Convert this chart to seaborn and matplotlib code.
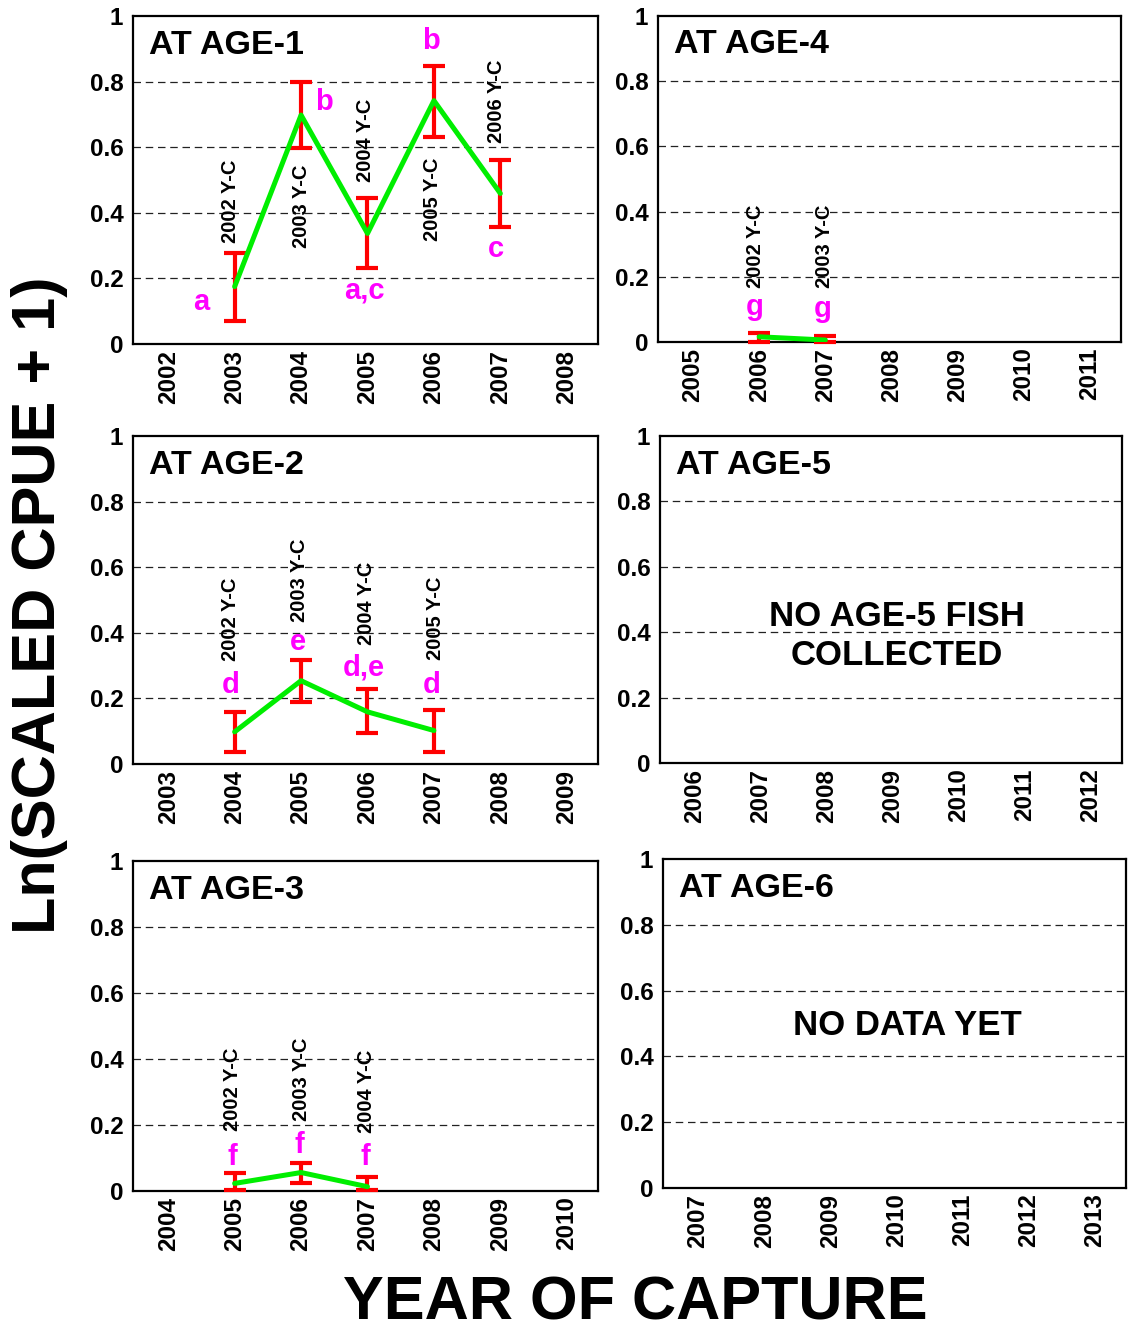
import numpy as np
import pandas as pd
import matplotlib
matplotlib.use("Agg")
import matplotlib.pyplot as plt
import seaborn as sns

sns.set_theme(style="white")
plt.rcParams["font.family"] = ["Liberation Sans", "DejaVu Sans"]
plt.rcParams["font.weight"] = "bold"
plt.rcParams["text.color"] = "black"
plt.rcParams["axes.labelcolor"] = "black"
plt.rcParams["xtick.color"] = "black"
plt.rcParams["ytick.color"] = "black"

# ---- data: mean ln(scaled CPUE + 1) with 95% CI, by year of capture ----
age1_years = [2003, 2004, 2005, 2006, 2007]
age1_mean = [0.175, 0.698, 0.337, 0.742, 0.459]
age1_low = [0.071, 0.597, 0.233, 0.632, 0.356]
age1_high = [0.278, 0.798, 0.444, 0.848, 0.561]
age1_yc = ["2002 Y-C", "2003 Y-C", "2004 Y-C", "2005 Y-C", "2006 Y-C"]
age1_letters = ["a", "b", "a,c", "b", "c"]

age2_years = [2004, 2005, 2006, 2007]
age2_mean = [0.098, 0.254, 0.159, 0.102]
age2_low = [0.038, 0.188, 0.094, 0.038]
age2_high = [0.158, 0.317, 0.228, 0.165]
age2_yc = ["2002 Y-C", "2003 Y-C", "2004 Y-C", "2005 Y-C"]
age2_letters = ["d", "e", "d,e", "d"]

age3_years = [2005, 2006, 2007]
age3_mean = [0.023, 0.056, 0.013]
age3_low = [0.003, 0.023, 0.003]
age3_high = [0.054, 0.084, 0.043]
age3_yc = ["2002 Y-C", "2003 Y-C", "2004 Y-C"]
age3_letters = ["f", "f", "f"]

age4_years = [2006, 2007]
age4_mean = [0.016, 0.006]
age4_low = [0.001, 0.0]
age4_high = [0.029, 0.018]
age4_yc = ["2002 Y-C", "2003 Y-C"]
age4_letters = ["g", "g"]

# first year shown on each panel's x axis (seven years per panel)
first_year = {1: 2002, 2: 2003, 3: 2004, 4: 2005, 5: 2006, 6: 2007}

# annotation placement (data coords): letter (x, baseline y), year-class label (x, centre y)
age1_letter_pos = [(2002.49, 0.104), (2004.35, 0.713), (2004.95, 0.139), (2005.95, 0.898), (2006.94, 0.266)]
age1_yc_pos = [(2002.94, 0.436), (2004.01, 0.419), (2004.97, 0.622), (2005.98, 0.442), (2006.94, 0.741)]
age2_letter_pos = [(2003.94, 0.216), (2004.95, 0.348), (2005.95, 0.271), (2006.96, 0.216)]
age2_yc_pos = [(2003.94, 0.442), (2004.98, 0.561), (2005.98, 0.491), (2007.02, 0.445)]
age3_letter_pos = [(2004.97, 0.079), (2005.97, 0.114), (2006.97, 0.079)]
age3_yc_pos = [(2004.97, 0.309), (2006.01, 0.338), (2006.99, 0.301)]
age4_letter_pos = [(2005.93, 0.083), (2006.96, 0.078)]
age4_yc_pos = [(2005.95, 0.292), (2006.98, 0.292)]

W, H = 1128, 1323
fig = plt.figure(figsize=(W / 100, H / 100), dpi=100)
fig.patch.set_facecolor("white")

# panel rectangles in pixels: left, top, right, bottom
rects = {
    1: (133, 16, 598, 344),
    2: (133, 436, 598, 764),
    3: (133, 861, 598, 1191),
    4: (658, 16, 1121, 342),
    5: (660, 436, 1122, 763),
    6: (663, 859, 1126, 1188),
}


def make_axes(n):
    l, t, r, b = rects[n]
    ax = fig.add_axes([l / W, 1 - b / H, (r - l) / W, (b - t) / H])
    y0 = first_year[n]
    ax.set_xlim(y0 - 0.53, y0 + 6 + 0.47)
    ax.set_ylim(0, 1)
    ax.set_xticks(range(y0, y0 + 7))
    ax.set_xticklabels([str(v) for v in range(y0, y0 + 7)], rotation=90,
                       fontsize=17.5, fontweight="bold")
    ax.set_yticks([0, 0.2, 0.4, 0.6, 0.8, 1.0])
    ax.set_yticklabels(["0", "0.2", "0.4", "0.6", "0.8", "1"],
                       fontsize=17.5, fontweight="bold")
    ax.tick_params(axis="both", length=0, colors="black")
    ax.tick_params(axis="y", pad=7)
    ax.tick_params(axis="x", pad=4)
    for s in ax.spines.values():
        s.set_visible(True)
        s.set_color("black")
        s.set_linewidth(1.6)
    for gy in (0.2, 0.4, 0.6, 0.8):
        ax.axhline(gy, color="#222222", lw=0.9, ls=(0, (6, 3.8)), zorder=1)
    ax.set_xlabel("")
    ax.set_ylabel("")
    ax.text(0.035, 0.885, f"AT AGE-{n}", transform=ax.transAxes, color="black",
            fontsize=24.5, fontweight="bold", ha="left", va="baseline")
    return ax


def draw_series(ax, years, mean, low, high, yc, letters, letter_pos, yc_pos):
    mean = np.asarray(mean)
    low = np.asarray(low)
    high = np.asarray(high)
    ax.errorbar(years, mean, yerr=[mean - low, high - mean], fmt="none",
                ecolor="#FF0000", elinewidth=3, capsize=8, capthick=3,
                zorder=3, clip_on=False)
    df = pd.DataFrame({"year": years, "cpue": mean})
    sns.lineplot(data=df, x="year", y="cpue", ax=ax, color="#00EE00",
                 lw=3.6, zorder=4, legend=False)
    ax.set_xlabel("")
    ax.set_ylabel("")
    for txt, (x, y) in zip(letters, letter_pos):
        ax.text(x, y, txt, color="#FF00FF", fontsize=21, fontweight="bold",
                ha="center", va="baseline", zorder=5)
    for txt, (x, y) in zip(yc, yc_pos):
        ax.text(x, y, txt, color="black", fontsize=14.5, fontweight="bold",
                rotation=90, ha="center", va="center", zorder=5)


ax1 = make_axes(1)
draw_series(ax1, age1_years, age1_mean, age1_low, age1_high, age1_yc,
            age1_letters, age1_letter_pos, age1_yc_pos)
ax2 = make_axes(2)
draw_series(ax2, age2_years, age2_mean, age2_low, age2_high, age2_yc,
            age2_letters, age2_letter_pos, age2_yc_pos)
ax3 = make_axes(3)
draw_series(ax3, age3_years, age3_mean, age3_low, age3_high, age3_yc,
            age3_letters, age3_letter_pos, age3_yc_pos)
ax4 = make_axes(4)
draw_series(ax4, age4_years, age4_mean, age4_low, age4_high, age4_yc,
            age4_letters, age4_letter_pos, age4_yc_pos)

ax5 = make_axes(5)
ax5.text(0.513, 0.388, "NO AGE-5 FISH\nCOLLECTED", transform=ax5.transAxes,
         color="black", fontsize=25, fontweight="bold", ha="center",
         va="center", linespacing=1.25)
ax6 = make_axes(6)
ax6.text(0.527, 0.495, "NO DATA YET", transform=ax6.transAxes, color="black",
         fontsize=25, fontweight="bold", ha="center", va="center")

fig.text(40 / W, 1 - 605 / H, "Ln(SCALED CPUE + 1)", rotation=90,
         color="black", fontsize=44, fontweight="bold", ha="center",
         va="center")
fig.text(635 / W, 1 - 1319 / H, "YEAR OF CAPTURE", color="black",
         fontsize=44, fontweight="bold", ha="center", va="baseline")

fig.savefig("out.png", dpi=100, facecolor="white")
